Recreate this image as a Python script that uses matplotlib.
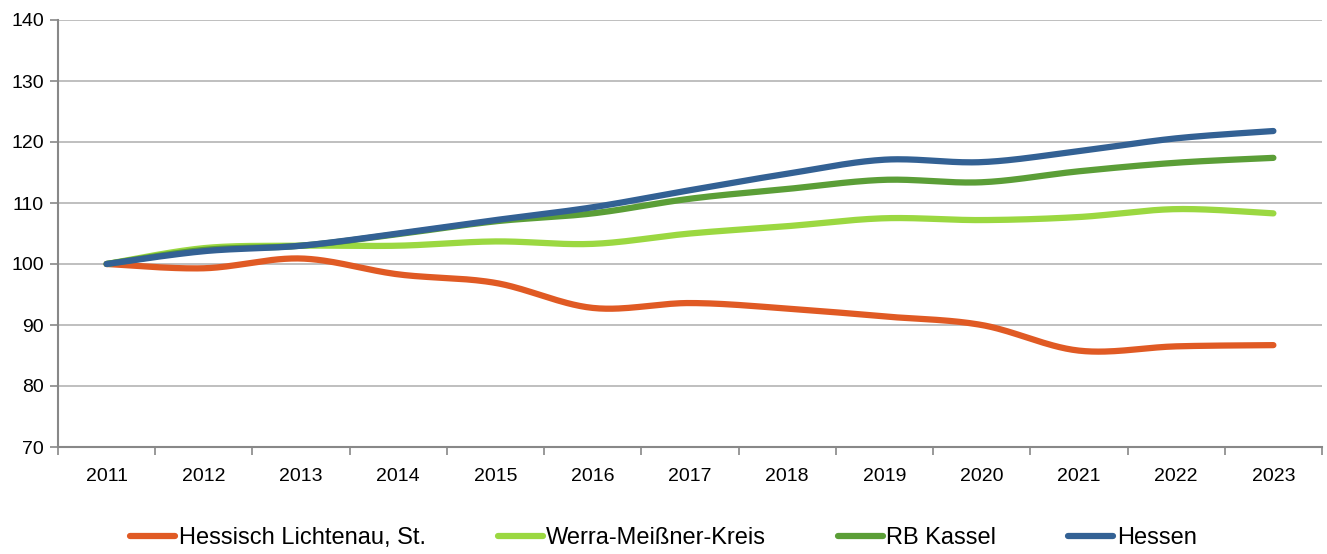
import numpy as np
import matplotlib
matplotlib.use("Agg")
import matplotlib.pyplot as plt
from matplotlib.lines import Line2D

years = ["2011", "2012", "2013", "2014", "2015", "2016", "2017",
         "2018", "2019", "2020", "2021", "2022", "2023"]
lichtenau = [100, 99.3, 100.9, 98.3, 96.9, 92.8, 93.6, 92.7, 91.4, 90.0, 85.8, 86.5, 86.7]
werra = [100, 102.6, 103.0, 103.0, 103.7, 103.3, 105.0, 106.2, 107.5, 107.2, 107.7, 109.0, 108.3]
kassel = [100, 102.3, 103.0, 104.9, 107.0, 108.3, 110.7, 112.3, 113.8, 113.4, 115.2, 116.6, 117.4]
hessen = [100, 102.1, 103.0, 105.0, 107.2, 109.3, 112.1, 114.8, 117.1, 116.7, 118.5, 120.6, 121.8]

names = ["Hessisch Lichtenau, St.", "Werra-Meißner-Kreis", "RB Kassel", "Hessen"]
colors = ["#E05A24", "#9BD841", "#5B9E37", "#336194"]

plt.rcParams["font.family"] = ["Liberation Sans Narrow", "Liberation Sans", "DejaVu Sans"]


def smooth(x, y, n=30):
    # Excel-like smoothed line: cubic bezier with control points at 1/6 of neighbour slope
    x = np.asarray(x, float)
    y = np.asarray(y, float)
    xs, ys = [], []
    for i in range(len(x) - 1):
        p0 = (x[max(i - 1, 0)], y[max(i - 1, 0)])
        p1 = (x[i], y[i])
        p2 = (x[i + 1], y[i + 1])
        p3 = (x[min(i + 2, len(x) - 1)], y[min(i + 2, len(x) - 1)])
        c1 = (p1[0] + (p2[0] - p0[0]) / 6, p1[1] + (p2[1] - p0[1]) / 6)
        c2 = (p2[0] - (p3[0] - p1[0]) / 6, p2[1] - (p3[1] - p1[1]) / 6)
        t = np.linspace(0, 1, n, endpoint=(i == len(x) - 2))
        a = (1 - t) ** 3
        b = 3 * (1 - t) ** 2 * t
        c = 3 * (1 - t) * t ** 2
        d = t ** 3
        xs.append(a * p1[0] + b * c1[0] + c * c2[0] + d * p2[0])
        ys.append(a * p1[1] + b * c1[1] + c * c2[1] + d * p2[1])
    return np.concatenate(xs), np.concatenate(ys)


fig = plt.figure(figsize=(13.27, 5.54), dpi=100)
ax = fig.add_axes([58 / 1327, 1 - 447 / 554, (1322 - 58) / 1327, (447 - 20) / 554])

x = np.arange(len(years))
for vals, name, col in zip([lichtenau, werra, kassel, hessen], names, colors):
    sx, sy = smooth(x, vals)
    ax.plot(sx, sy, color=col, lw=4.5, solid_capstyle="round", label=name, zorder=3)

ax.set_xlim(-0.5, len(years) - 0.5)
ax.set_ylim(70, 140)
ax.set_yticks(range(70, 141, 10))
ax.set_xticks(x)
ax.set_xticklabels(years, fontsize=14)
ax.set_xticks(np.arange(-0.5, len(years), 1), minor=True)
ax.tick_params(axis="x", which="major", length=0, pad=15)
ax.tick_params(axis="x", which="minor", length=6, color="#888888", width=1.2)
ax.tick_params(axis="y", length=6, color="#888888", width=1.2, labelsize=14, pad=4)
ax.grid(True, axis="y", color="#b4b4b4", lw=1.2, zorder=0)
for s in ["top", "right"]:
    ax.spines[s].set_visible(False)
for s in ["left", "bottom"]:
    ax.spines[s].set_color("#888888")
    ax.spines[s].set_linewidth(1.5)

handles = [Line2D([0], [0], color=c, lw=4.5, solid_capstyle="round") for c in colors]
fig.legend(handles, names, loc="center", bbox_to_anchor=(0.5, 1 - 538 / 554), ncol=4,
           frameon=False, fontsize=17, handlelength=1.9, handletextpad=0.15,
           columnspacing=3.05)

fig.savefig("out.png", dpi=100)
